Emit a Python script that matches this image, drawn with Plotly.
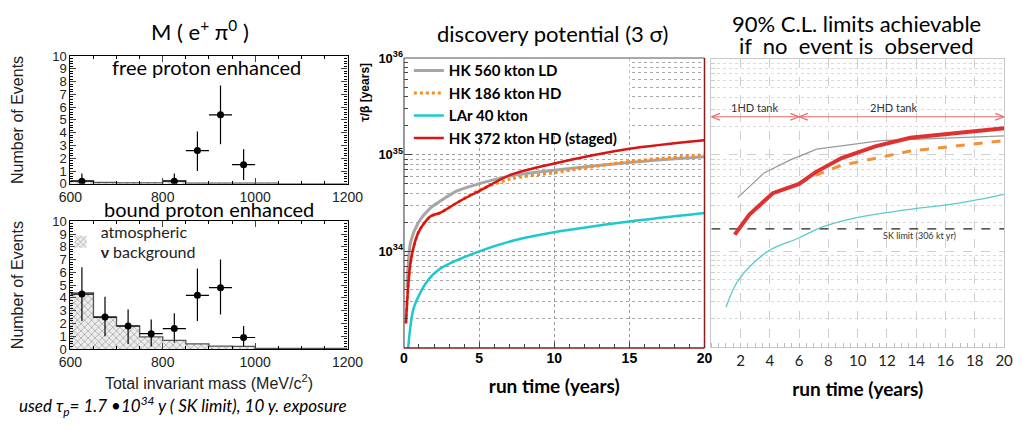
import numpy as np
import plotly.graph_objects as go

W, H = 1023, 430

# ---------------- data: M(e+ pi0) histograms ----------------
mass_edges = [600, 650, 700, 750, 800, 850, 900, 950, 1000, 1050, 1100, 1150, 1200]
free_bkg = [0.25, 0.1, 0.08, 0.08, 0.25, 0.05, 0.05, 0.05, 0.05, 0.0, 0.0, 0.0]
bound_bkg = [4.4, 2.5, 1.8, 0.95, 0.68, 0.4, 0.23, 0.2, 0.04, 0.04, 0.04, 0.04]

free_mass = [625, 825, 875, 925, 975]
free_events = [0.2, 0.2, 2.6, 5.4, 1.5]
free_err_hi = [0.8, 0.8, 4.1, 7.7, 2.7]
free_err_lo = [0.0, 0.0, 1.0, 3.1, 0.3]

bound_mass = [625, 675, 725, 775, 825, 875, 925, 975]
bound_events = [4.3, 2.5, 1.8, 1.2, 1.6, 4.2, 4.8, 0.9]
bound_err_hi = [6.4, 4.1, 3.1, 2.3, 2.8, 6.3, 7.0, 1.8]
bound_err_lo = [2.2, 1.0, 0.4, 0.2, 0.5, 2.2, 2.7, 0.2]
bin_half = 25

# ---------------- data: discovery potential (3 sigma) ----------------
ld560_t = [0.2, 0.45, 0.97, 1.75, 2.4, 3.5, 5, 7, 10, 15, 20]
ld560_v = [4.2e33, 1.26e34, 2.0e34, 2.8e34, 3.3e34, 4.2e34, 5.0e34, 6.0e34, 6.9e34, 8.3e34, 9.5e34]
hd186_t = [0.13, 0.45, 0.97, 1.75, 2.4, 3.7, 5, 7.1, 10, 15, 20]
hd186_v = [1.8e33, 7.9e33, 1.58e34, 2.3e34, 2.5e34, 3.3e34, 4.3e34, 5.6e34, 6.5e34, 8.5e34, 1.0e35]
lar40_t = [0.28, 0.65, 1.5, 2.4, 5, 7.5, 10, 15, 20]
lar40_v = [1.0e33, 2.6e33, 4.8e33, 6.6e33, 1.0e34, 1.32e34, 1.58e34, 2.04e34, 2.5e34]
hd372_t = [0.13, 0.45, 0.97, 1.75, 2.4, 3.7, 5, 7.1, 10, 15, 20]
hd372_v = [1.8e33, 7.9e33, 1.58e34, 2.3e34, 2.5e34, 3.3e34, 4.2e34, 6.2e34, 8.1e34, 1.15e35, 1.41e35]
decade_ticks = [1e34, 1e35, 1e36]
decade_labels = ["10<sup>34</sup>", "10<sup>35</sup>", "10<sup>36</sup>"]

# ---------------- data: 90% C.L. limits ----------------
lim_ld_t = [1.8, 3.6, 5.4, 7.2, 11.6, 20]
lim_ld_v = [3.6e34, 6.5e34, 8.9e34, 1.15e35, 1.41e35, 1.58e35]
lim_staged_t = [1.6, 2.6, 4.2, 6.0, 7.1, 8.9, 11.2, 13.6, 20]
lim_staged_v = [1.48e34, 2.4e34, 4.0e34, 5.0e34, 6.6e34, 9.3e34, 1.23e35, 1.51e35, 1.9e35]
lim_hd_t = [6.0, 7.2, 8.9, 13.6, 20]
lim_hd_v = [5.1e34, 6.2e34, 7.8e34, 1.1e35, 1.41e35]
lim_lar_t = [1.0, 1.9, 3.9, 5.9, 7.6, 10, 13.4, 16.9, 20]
lim_lar_v = [2.6e33, 5.1e33, 1.0e34, 1.35e34, 1.78e34, 2.24e34, 2.7e34, 3.16e34, 3.9e34]
sk_limit = 1.7e34
stage_bounds = [0, 6, 20]
stage_labels = ["1HD tank", "2HD tank"]
stage_arrow_level = 2.5e35

# ---------------- layout helpers ----------------
def xd(a, b):
    return [a / W, b / W]

def yd(top, bottom):
    return [1 - bottom / H, 1 - top / H]

ARIAL = "Liberation Sans"
CAL = "Lato"

fig = go.Figure()

centers = [e + bin_half for e in mass_edges[:-1]]

def add_hist(bkg, xa, ya, show, name):
    fig.add_trace(go.Bar(
        x=centers, y=bkg, width=2 * bin_half, xaxis=xa, yaxis=ya,
        marker=dict(color="#e4e4e4", line=dict(width=0),
                    pattern=dict(shape="x", fgcolor="#6a6a6a", bgcolor="#ececec", size=5, solidity=0.3)),
        showlegend=show, name=name, legend="legend2"))
    fig.add_trace(go.Scatter(
        x=mass_edges, y=list(bkg) + [bkg[-1]], xaxis=xa, yaxis=ya, mode="lines",
        line=dict(shape="hv", color="#555555", width=1.3), showlegend=False, hoverinfo="skip"))

def add_points(xs, ys, hi, lo, xa, ya):
    fig.add_trace(go.Scatter(
        x=xs, y=ys, xaxis=xa, yaxis=ya, mode="markers",
        marker=dict(color="black", size=7),
        error_x=dict(type="constant", value=bin_half, color="black", thickness=1.2, width=0),
        error_y=dict(type="data", array=[h - y for h, y in zip(hi, ys)],
                     arrayminus=[y - l for l, y in zip(lo, ys)], color="black", thickness=1.2, width=0),
        showlegend=False))

add_hist(free_bkg, "x", "y", False, "bkg")
add_points(free_mass, free_events, free_err_hi, free_err_lo, "x", "y")
add_hist(bound_bkg, "x2", "y2", True, "atmospheric<br><b>ν</b> background")
add_points(bound_mass, bound_events, bound_err_hi, bound_err_lo, "x2", "y2")

# middle panel: white backing behind the legend (hides the grid there)
fig.add_trace(go.Scatter(x=[0, 15, 15, 0, 0], y=[10 ** 35.2, 10 ** 35.2, 1e36, 1e36, 10 ** 35.2],
                         xaxis="x3", yaxis="y3", mode="lines", fill="toself", fillcolor="white",
                         line=dict(width=0, color="white"), showlegend=False, hoverinfo="skip"))
mid_series = [
    ("HK 560 kton LD", ld560_t, ld560_v, dict(color="#a6a6a6", width=3)),
    ("HK 186 kton HD", hd186_t, hd186_v, dict(color="#ff8a1e", width=3, dash="dot")),
    ("LAr 40 kton", lar40_t, lar40_v, dict(color="#1ec8cc", width=2.5)),
    ("HK 372 kton HD (staged)", hd372_t, hd372_v, dict(color="#d81414", width=2.5)),
]
for name, t, v, ln in mid_series:
    fig.add_trace(go.Scatter(x=t, y=v, xaxis="x3", yaxis="y3", mode="lines",
                             line=dict(shape="spline", smoothing=0.8, **ln), name=name, legend="legend"))

# right panel: SK limit and staging arrows
fig.add_trace(go.Scatter(x=[0, 20], y=[sk_limit, sk_limit], xaxis="x4", yaxis="y4", mode="lines",
                         line=dict(color="#222", width=1.2, dash="dash"), showlegend=False, hoverinfo="skip"))
arm_dx, arm_f = 0.6, 10 ** 0.035
arr_x, arr_y = [], []
for a, b in zip(stage_bounds[:-1], stage_bounds[1:]):
    arr_x += [a, b, None]
    arr_y += [stage_arrow_level, stage_arrow_level, None]
    for tip, sgn in ((a, 1), (b, -1)):
        arr_x += [tip + sgn * arm_dx, tip, tip + sgn * arm_dx, None]
        arr_y += [stage_arrow_level * arm_f, stage_arrow_level, stage_arrow_level / arm_f, None]
fig.add_trace(go.Scatter(x=arr_x, y=arr_y, xaxis="x4", yaxis="y4", mode="lines",
                         line=dict(color="#e86a6a", width=1.2), showlegend=False, hoverinfo="skip"))

right_series = [
    (lim_ld_t, lim_ld_v, dict(color="#9a9a9a", width=1.3), "linear"),
    (lim_lar_t, lim_lar_v, dict(color="#5cc9cc", width=1.3), "spline"),
    (lim_hd_t, lim_hd_v, dict(color="#f0913e", width=3, dash="dash"), "linear"),
    (lim_staged_t, lim_staged_v, dict(color="#e03030", width=4), "linear"),
]
for t, v, ln, shp in right_series:
    fig.add_trace(go.Scatter(x=t, y=v, xaxis="x4", yaxis="y4", mode="lines",
                             line=dict(shape=shp, **ln), showlegend=False))

# ---------------- axes ----------------
hist_x = dict(range=[600, 1200], tickvals=[600, 800, 1000, 1200], ticks="inside", ticklen=6,
              showline=True, linecolor="black", linewidth=1.2, mirror="ticks", showgrid=False,
              zeroline=False, tickfont=dict(family=ARIAL, size=14, color="#222"),
              minor=dict(dtick=50, ticks="inside", ticklen=3, tickcolor="black"))
hist_y = dict(range=[0, 10], dtick=1, ticks="inside", ticklen=6, showline=True, linecolor="black",
              linewidth=1.2, mirror="ticks", showgrid=False, zeroline=False,
              tickfont=dict(family=ARIAL, size=13, color="#222"),
              minor=dict(dtick=0.2, ticks="inside", ticklen=3, tickcolor="black"),
              title=dict(text="Number of Events", font=dict(family=ARIAL, size=16, color="#222"), standoff=24))

minor_log = [m * 10.0 ** e for e in (33, 34, 35) for m in range(2, 10)]

layout = dict(
    width=W, height=H, margin=dict(l=0, r=0, t=0, b=0),
    paper_bgcolor="white", plot_bgcolor="white", bargap=0,
    xaxis=dict(domain=xd(60, 345), anchor="y", **hist_x),
    yaxis=dict(domain=yd(49, 182), anchor="x", **hist_y),
    xaxis2=dict(domain=xd(60, 345), anchor="y2", **hist_x,
                title=dict(text="Total invariant mass (MeV/c<sup>2</sup>)",
                           font=dict(family=ARIAL, size=16, color="#222"), standoff=8)),
    yaxis2=dict(domain=yd(221, 354), anchor="x2", **hist_y),
    xaxis3=dict(domain=xd(403, 712), anchor="y3", range=[0, 20], tickvals=[0, 5, 10, 15, 20],
                ticks="inside", ticklen=6, showline=False, showgrid=True, gridcolor="#9a9a9a",
                griddash="dot", gridwidth=1, zeroline=False,
                tickfont=dict(family=ARIAL, size=14, color="black", weight="bold"),
                minor=dict(dtick=1, ticks="inside", ticklen=4, tickcolor="#444"),
                title=dict(text="run time (years)", font=dict(family=CAL, size=19, color="black", weight="bold"),
                           standoff=14)),
    yaxis3=dict(domain=yd(51, 353), anchor="x3", type="log", range=[33, 36],
                tickvals=decade_ticks, ticktext=decade_labels, ticks="inside", ticklen=8, showline=False,
                showgrid=True, gridcolor="#9a9a9a", griddash="dot", zeroline=False,
                tickfont=dict(family=ARIAL, size=13, color="black", weight="bold"),
                minor=dict(tickvals=minor_log, ticks="inside", ticklen=4, tickcolor="#444",
                           showgrid=True, gridcolor="#a8a8a8", griddash="dot")),
    xaxis4=dict(domain=xd(719, 1020), anchor="y4", range=[0, 20], tickvals=list(range(2, 21, 2)),
                ticks="", showline=True, linecolor="#c8c8c8", mirror=True, showgrid=True,
                gridcolor="#cfcfcf", griddash="dash", zeroline=False,
                tickfont=dict(family=CAL, size=15, color="#222"),
                minor=dict(dtick=0.5, ticks="inside", ticklen=4, tickcolor="#bbbbbb"),
                title=dict(text="run time (years)", font=dict(family=CAL, size=19, color="black", weight="bold"),
                           standoff=14)),
    yaxis4=dict(domain=yd(52, 352), anchor="x4", type="log", range=[33, 36], tickvals=decade_ticks,
                showticklabels=False, ticks="", showline=True, linecolor="#c8c8c8", mirror=True,
                showgrid=True, gridcolor="#cfcfcf", griddash="dash", zeroline=False,
                minor=dict(tickvals=minor_log, ticks="inside", ticklen=4, tickcolor="#cccccc",
                           showgrid=True, gridcolor="#dadada", griddash="dot")),
    legend=dict(x=408 / W, y=1 - 47 / H, xanchor="left", yanchor="top", bgcolor="rgba(0,0,0,0)",
                font=dict(family=CAL, size=15, color="black", weight="bold"), tracegroupgap=0,
                itemwidth=30),
    legend2=dict(x=50 / W, y=1 - 214 / H, xanchor="left", yanchor="top", bgcolor="rgba(0,0,0,0)",
                 font=dict(family=CAL, size=16, color="#222")),
)
fig.update_layout(**layout)

shapes = [
    # middle panel frame
    dict(type="line", xref="x3 domain", yref="y3 domain", x0=0, x1=0, y0=0, y1=1, line=dict(color="#555", width=1.2)),
    dict(type="line", xref="x3 domain", yref="y3 domain", x0=0, x1=1, y0=1, y1=1, line=dict(color="#555", width=1.2)),
    dict(type="line", xref="x3 domain", yref="y3 domain", x0=1, x1=1, y0=0, y1=1, line=dict(color="#8b1a1a", width=1.5)),
    dict(type="line", xref="x3 domain", yref="y3 domain", x0=0, x1=1, y0=0, y1=0, line=dict(color="#8b1a1a", width=1.5)),
]
fig.update_layout(shapes=shapes)

ann = [
    dict(text="M ( e<sup>+</sup> π<sup>0</sup> )", x=193 / W, y=1 - 22 / H, font=dict(family=CAL, size=22, color="black")),
    dict(text="free proton enhanced", x=200 / W, y=1 - 60 / H, font=dict(family=CAL, size=20, color="black")),
    dict(text="bound proton enhanced", x=203 / W, y=1 - 208 / H, font=dict(family=CAL, size=20, color="black")),
    dict(text="<i>used τ<sub>p</sub>= 1.7 •10<sup>34</sup> y ( SK limit), 10 y. exposure</i>", x=176 / W, y=1 - 413 / H,
         font=dict(family=CAL, size=17, color="black")),
    dict(text="discovery potential (3 σ)", x=556 / W, y=1 - 25 / H, font=dict(family=CAL, size=22, color="black")),
    dict(text="τ/β [years]", x=362 / W, y=1 - 87 / H, textangle=-90, font=dict(family=ARIAL, size=12, color="black", weight="bold")),
    dict(text="90% C.L. limits achievable", x=868 / W, y=1 - 15 / H, font=dict(family=CAL, size=22, color="black")),
    dict(text="if  no  event is  observed", x=868 / W, y=1 - 38 / H, font=dict(family=CAL, size=22, color="black")),
]
for a in ann:
    a.update(xref="paper", yref="paper", showarrow=False, xanchor="center", yanchor="middle")

la = np.log10(stage_arrow_level)
for (a, b), lab in zip(zip(stage_bounds[:-1], stage_bounds[1:]), stage_labels):
    ann.append(dict(text=lab, xref="x4", yref="y4", x=(a + b) / 2 - (0 if a == 0 else 0.5), y=la + 0.1,
                    showarrow=False, font=dict(family=CAL, size=11, color="#333")))
ann.append(dict(text="SK limit (306 kt yr)", xref="x4", yref="y4", x=14.2, y=np.log10(sk_limit) - 0.07,
                showarrow=False, font=dict(family=CAL, size=9, color="#333")))
fig.update_layout(annotations=ann)

fig.write_html("out.html")
